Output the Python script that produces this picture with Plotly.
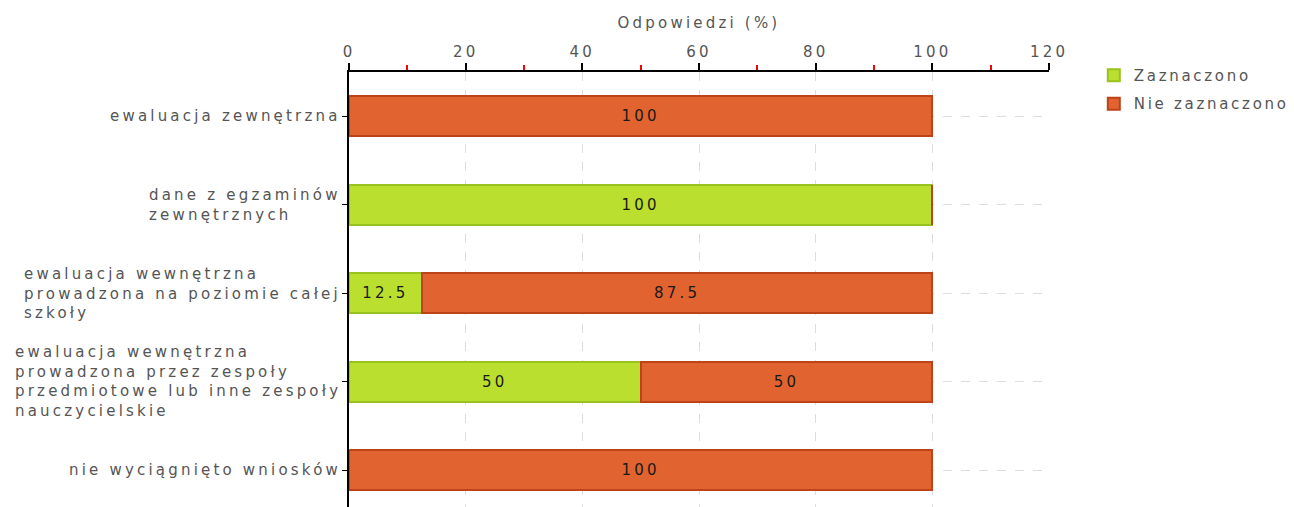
import plotly.graph_objects as go

categories = [
    "ewaluacja zewnętrzna",
    "dane z egzaminów<br>zewnętrznych",
    "ewaluacja wewnętrzna<br>prowadzona na poziomie całej<br>szkoły",
    "ewaluacja wewnętrzna<br>prowadzona przez zespoły<br>przedmiotowe lub inne zespoły<br>nauczycielskie",
    "nie wyciągnięto wniosków",
]
zaznaczono = [0, 100, 12.5, 50, 0]
nie_zaznaczono = [100, 0, 87.5, 50, 100]
series_names = ["Zaznaczono", "Nie zaznaczono"]
x_ticks = [0, 20, 40, 60, 80, 100, 120]
axis_title = "Odpowiedzi (%)"

FONT = "DejaVu Sans"
FS = 15
SP = "3.2px"
idx = list(range(len(categories)))


def sp(s, spacing=SP):
    return "<br>".join('<span style="letter-spacing:%s">%s</span>' % (spacing, part)
                       for part in s.split("<br>"))


def labels(vals):
    return [sp("%g" % v) if v > 0 else "" for v in vals]


fig = go.Figure()
fig.add_trace(go.Bar(
    name=sp(series_names[0], "2.7px"), y=idx, x=zaznaczono, orientation="h",
    legendgroup="a",
    marker=dict(color="#bbdf2f", line=dict(color="#97c21f", width=2)),
    text=labels(zaznaczono), textposition="inside", insidetextanchor="middle",
    textfont=dict(family=FONT, size=FS, color="#1a1a1a"), width=0.45,
))
fig.add_trace(go.Bar(
    name=sp(series_names[1], "2.7px"), y=idx, x=nie_zaznaczono, orientation="h",
    legendgroup="b",
    marker=dict(color="#e1632f", line=dict(color="#bd4318", width=2)),
    text=labels(nie_zaznaczono), textposition="inside", insidetextanchor="middle",
    textfont=dict(family=FONT, size=FS, color="#1a1a1a"), width=0.45,
))

for i, c in enumerate(categories):
    fig.add_annotation(
        x=0, xref="paper", y=i, yref="y", text=sp(c), showarrow=False,
        xanchor="right", yanchor="middle", align="left", xshift=-6,
        font=dict(family=FONT, size=FS, color="#555555"),
    )

fig.update_layout(
    barmode="stack",
    width=1294, height=507,
    margin=dict(l=341, r=253, t=64, b=6, pad=0),
    plot_bgcolor="white", paper_bgcolor="white",
    font=dict(family=FONT, size=FS, color="#555555"),
    legend=dict(x=1.064, xanchor="left", y=1.03, yanchor="top",
                font=dict(family=FONT, size=FS, color="#555555"),
                tracegroupgap=6, itemwidth=30, traceorder="grouped"),
    uniformtext=dict(mode="show", minsize=8),
)
fig.update_xaxes(
    side="top", range=[0, 120], tickvals=x_ticks,
    ticktext=[sp(str(t)) for t in x_ticks],
    showline=True, linecolor="black", linewidth=1.5,
    ticks="outside", ticklen=7, tickcolor="black", tickwidth=1.5,
    showgrid=True, gridcolor="#dddddd", griddash="dash", gridwidth=1,
    zeroline=False,
    tickfont=dict(family=FONT, size=FS, color="#555555"),
    title=dict(text=sp(axis_title), font=dict(family=FONT, size=FS, color="#555555"), standoff=11),
    minor=dict(tickvals=[10, 30, 50, 70, 90, 110], ticks="outside", ticklen=5,
               tickcolor="red", tickwidth=1.5, showgrid=False),
)
fig.update_yaxes(
    range=[4.44, -0.5], tickvals=idx, ticktext=[""] * len(idx),
    showline=True, linecolor="black", linewidth=1.5,
    ticks="outside", ticklen=5, tickcolor="black",
    showgrid=True, gridcolor="#dddddd", griddash="dash", gridwidth=1,
    zeroline=False,
)

fig.write_html("out.html")
